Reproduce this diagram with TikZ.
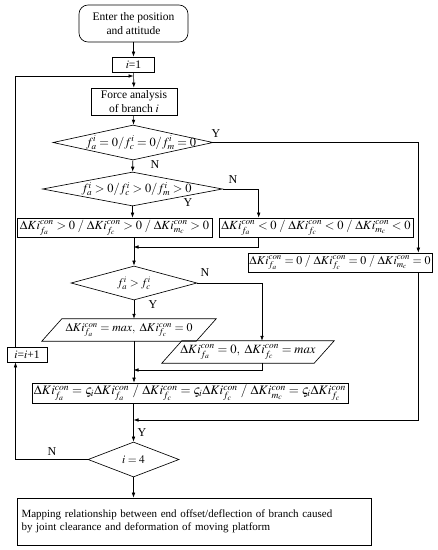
\documentclass[tikz,border=0pt]{standalone}
\usepackage{mathptmx}
\usepackage{fontspec}
\setmainfont{Liberation Serif}
\usepackage{graphicx}
\usetikzlibrary{shapes.geometric,arrows.meta}
\newcommand{\fitw}[2]{\resizebox{#1}{!}{#2}}
\newcommand{\dk}[1]{\Delta Ki_{#1}^{con}}
\begin{document}
\begin{tikzpicture}[x=1pt,y=-1pt,
  base/.style={draw, line width=0.65pt, inner sep=0pt, font=\fontsize{11.5}{14}\selectfont},
  rbox/.style={base, rectangle},
  dia/.style={base, diamond},
  parabox/.style={inner sep=0pt, rectangle, font=\fontsize{11.5}{14}\selectfont},
  paraline/.style={line width=0.65pt},
  lbl/.style={inner sep=0pt, font=\fontsize{12}{12}\selectfont},
  arr/.style={-{Latex[length=5pt,width=3.6pt]}, line width=0.6pt},
  ln/.style={line width=0.6pt}]
\useasboundingbox (0,0) rectangle (438,550);
\fill[white] (0,0) rectangle (438,550);

% nodes
\node[rbox, rounded corners=9pt, minimum width=109, minimum height=37, align=center,
      font=\fontsize{11.5}{14.5}\selectfont] (start) at (133.5,23.5) {Enter the position\\and attitude};
\node[rbox, minimum width=42, minimum height=15] (i1) at (133.5,64.5) {$i$=1};
\node[rbox, minimum width=86, minimum height=27, align=center,
      font=\fontsize{11.5}{13.5}\selectfont] (force) at (134,101.5) {Force analysis\\of branch $i$};
\node[dia, minimum width=160, minimum height=35] (d1) at (133,142.5)
  {\makebox[0pt]{\hspace*{16pt}\fitw{110pt}{$f_a^i=0/f_c^i=0/f_m^i=0$}}};
\node[dia, minimum width=180, minimum height=34] (d2) at (132.5,189)
  {\makebox[0pt]{\hspace*{8pt}\fitw{110pt}{$f_a^i>0/f_c^i>0/f_m^i>0$}}};
\node[rbox, minimum width=195, minimum height=19] (lbox) at (114.5,227.5)
  {\fitw{189pt}{$\dk{f_a}>0\;/\;\dk{f_c}>0\;/\;\dk{m_c}>0$}};
\node[rbox, minimum width=194, minimum height=19] (rbx) at (316,227.5)
  {\fitw{189pt}{$\dk{f_a}<0\;/\;\dk{f_c}<0\;/\;\dk{m_c}<0$}};
\node[rbox, minimum width=184, minimum height=19] (zero) at (340,262.5)
  {\fitw{181pt}{$\dk{f_a}=0\;/\;\dk{f_c}=0\;/\;\dk{m_c}=0$}};
\node[dia, minimum width=126, minimum height=34] (d3) at (134,283)
  {\makebox[0pt]{$f_a^i>f_c^i$}};
\node[parabox, minimum width=174, minimum height=22] (p1) at (129,330)
  {\makebox[0pt]{\fitw{127pt}{$\dk{f_a}=max,\ \dk{f_c}=0$}}};
\node[parabox, minimum width=172, minimum height=22] (p2) at (248,352)
  {\makebox[0pt]{\fitw{135pt}{$\dk{f_a}=0,\ \dk{f_c}=max$}}};
\draw[paraline] (p1.south west) -- ([xshift=20pt]p1.north west) -- (p1.north east)
  -- ([xshift=-20pt]p1.south east) -- cycle;
\draw[paraline] (p2.south west) -- ([xshift=20pt]p2.north west) -- (p2.north east)
  -- ([xshift=-20pt]p2.south east) -- cycle;
\node[rbox, minimum width=40, minimum height=15] (inc) at (27,354.5) {$i$=$i$+1};
\node[rbox, minimum width=316, minimum height=20] (big) at (190,393)
  {\fitw{312pt}{$\dk{f_a}=\varsigma_i\dk{f_a}\ /\ \dk{f_c}=\varsigma_i\dk{f_c}\ /\ \dk{m_c}=\varsigma_i\dk{f_c}$}};
\node[dia, minimum width=91, minimum height=35] (d4) at (133.5,459.5) {\makebox[0pt]{$i=4$}};
\node[rbox, minimum width=354, minimum height=47, text width=345pt, align=left,
      font=\fontsize{11}{13}\selectfont] (final) at (194,521.5)
  {\makebox[345pt][s]{Mapping relationship between end offset/deflection of branch caused}\\by joint clearance and deformation of moving platform};

% labels
\node[lbl] (y1) at (216,134) {Y};
\node[lbl] (n1) at (155,165) {N};
\node[lbl] (n2) at (233,180) {N};
\node[lbl] (y2) at (188,203) {Y};
\node[lbl] (n3) at (205,273) {N};
\node[lbl] (y3) at (153,305) {Y};
\node[lbl] (y4) at (142,433) {Y};
\node[lbl] (n4) at (52,452) {N};

% helper coordinates
\coordinate (m1) at (133.5,247);
\coordinate (j2) at (262,283);
\coordinate (m2) at (133.5,370);
\coordinate (m3) at (133.5,420);
\coordinate (lx) at (15.5,76);

% connectors
\draw[arr] (start) -- (i1);
\draw[arr] (i1) -- (force);
\draw[arr] (force) -- (d1);
\draw[arr] (d1.east) -| ([xshift=-14pt]zero.north east);
\draw[arr] (d1) -- (d2);
\draw[arr] (d2.east) -| ([xshift=40pt]rbx.north west);
\draw[arr] (d2.south) -- (d2.south |- lbox.north);
\draw[arr] ([xshift=40pt]rbx.south west) |- (m1);
\draw[arr] (d3.north |- lbox.south) -- (d3.north);
\draw[arr] (d3.east) -- (j2) -- (j2 |- p2.north);
\draw[arr] (d3.south) -- (d3.south |- p1.north);
\draw[arr] (d3.south |- p1.south) -- (d3.south |- big.north);
\draw[arr] (j2 |- p2.south) |- (m2);
\draw[arr] ([xshift=-14pt]zero.south east) |- (m3);
\draw[arr] (d4.north |- big.south) -- (d4.north);
\draw[arr] (d4.south) -- (d4.south |- final.north);
\draw[arr] (d4.west) -| (lx |- inc.south);
\draw[arr] (lx |- inc.north) -- (lx) -- (i1.south |- lx);
\end{tikzpicture}
\end{document}
